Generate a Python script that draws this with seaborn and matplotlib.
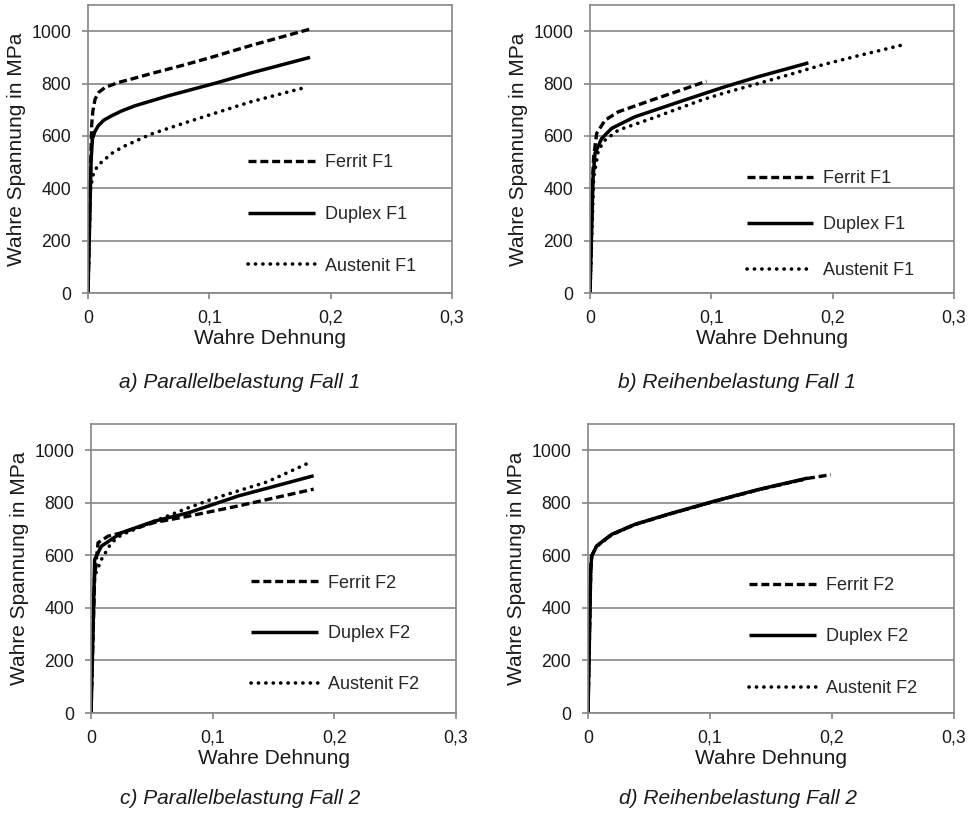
import matplotlib
matplotlib.use("Agg")
import matplotlib.pyplot as plt
import seaborn as sns
import pandas as pd

# ---------------- data (true strain, true stress in MPa) ----------------
# a) Parallelbelastung Fall 1
a_ferrit_x = [0, 0.002, 0.003, 0.004, 0.0058, 0.009, 0.014, 0.025, 0.038, 0.052, 0.080, 0.100, 0.134, 0.183]
a_ferrit_y = [0, 440, 640, 695, 740, 767, 785, 804, 820, 838, 872, 898, 945, 1008]
a_duplex_x = [0, 0.0025, 0.0036, 0.0055, 0.0085, 0.013, 0.0195, 0.028, 0.0387, 0.066, 0.1047, 0.134, 0.183]
a_duplex_y = [0, 500, 588, 615, 639, 660, 677, 696, 715, 753, 801, 840, 900]
a_austen_x = [0, 0.002, 0.0044, 0.008, 0.014, 0.021, 0.0305, 0.052, 0.080, 0.100, 0.134, 0.179]
a_austen_y = [0, 400, 454, 487, 511, 538, 562, 607, 650, 680, 730, 785]

# b) Reihenbelastung Fall 1
b_ferrit_x = [0, 0.002, 0.003, 0.0055, 0.0124, 0.0233, 0.051, 0.075, 0.096]
b_ferrit_y = [0, 420, 520, 610, 660, 692, 737, 775, 809]
b_duplex_x = [0, 0.0025, 0.0041, 0.0096, 0.0179, 0.037, 0.078, 0.110, 0.137, 0.180]
b_duplex_y = [0, 440, 533, 590, 629, 673, 737, 786, 824, 879]
b_austen_x = [0, 0.003, 0.0069, 0.0124, 0.0233, 0.051, 0.092, 0.110, 0.137, 0.165, 0.192, 0.220, 0.258]
b_austen_y = [0, 440, 546, 584, 622, 667, 737, 763, 798, 835, 872, 905, 948]

# c) Parallelbelastung Fall 2
c_ferrit_x = [0, 0.003, 0.0058, 0.014, 0.025, 0.052, 0.080, 0.121, 0.150, 0.183]
c_ferrit_y = [0, 520, 648, 673, 686, 725, 749, 788, 818, 852]
c_duplex_x = [0, 0.0025, 0.003, 0.0085, 0.025, 0.052, 0.080, 0.121, 0.150, 0.183]
c_duplex_y = [0, 480, 584, 635, 686, 730, 762, 826, 862, 903]
c_austen_x = [0, 0.002, 0.003, 0.0085, 0.0167, 0.025, 0.052, 0.080, 0.100, 0.145, 0.179]
c_austen_y = [0, 400, 520, 584, 648, 678, 730, 781, 815, 880, 952]

# d) Reihenbelastung Fall 2
d_ferrit_x = [0, 0.0022, 0.003, 0.0071, 0.0194, 0.0385, 0.066, 0.104, 0.140, 0.180, 0.199]
d_ferrit_y = [0, 540, 597, 635, 679, 718, 756, 806, 850, 893, 907]
d_duplex_x = [0, 0.0022, 0.003, 0.0071, 0.0194, 0.0385, 0.066, 0.104, 0.140, 0.180]
d_duplex_y = [0, 540, 598, 636, 680, 718, 757, 807, 851, 894]
d_austen_x = [0, 0.0022, 0.003, 0.0071, 0.0194, 0.0385, 0.066, 0.104, 0.140, 0.180]
d_austen_y = [0, 538, 596, 634, 678, 717, 756, 806, 850, 892]

labels_f1 = ["Ferrit F1", "Duplex F1", "Austenit F1"]
labels_f2 = ["Ferrit F2", "Duplex F2", "Austenit F2"]
captions = ["a) Parallelbelastung Fall 1", "b) Reihenbelastung Fall 1",
            "c) Parallelbelastung Fall 2", "d) Reihenbelastung Fall 2"]
x_ticks = [0, 0.1, 0.2, 0.3]
x_ticklabels = ["0", "0,1", "0,2", "0,3"]
y_ticks = [0, 200, 400, 600, 800, 1000]
x_label = "Wahre Dehnung"
y_label = "Wahre Spannung in MPa"

# ---------------- style ----------------
sns.set_style("white")
plt.rcParams["font.family"] = ["Liberation Sans", "DejaVu Sans"]

GRAY = "#868686"
styles = [
    dict(ls=(0, (2.4, 1.15)), lw=2.4, dash_capstyle="butt"),
    dict(ls="-", lw=2.5),
    dict(ls=(0, (0.05, 2.0)), lw=2.6, dash_capstyle="round"),
]

panels = [
    ([(a_ferrit_x, a_ferrit_y), (a_duplex_x, a_duplex_y), (a_austen_x, a_austen_y)], labels_f1),
    ([(b_ferrit_x, b_ferrit_y), (b_duplex_x, b_duplex_y), (b_austen_x, b_austen_y)], labels_f1),
    ([(c_ferrit_x, c_ferrit_y), (c_duplex_x, c_duplex_y), (c_austen_x, c_austen_y)], labels_f2),
    ([(d_ferrit_x, d_ferrit_y), (d_duplex_x, d_duplex_y), (d_austen_x, d_austen_y)], labels_f2),
]

W, H = 974, 814
boxes = [(88, 452, 5, 293), (590, 954, 5, 293), (91, 456, 424, 713), (588, 954, 424, 713)]
legend_anchor = [(0.44, 0.273, 1.93), (0.43, 0.238, 1.6), (0.438, 0.274, 1.87), (0.44, 0.263, 1.92)]
caption_pos = [(240, 383), (737, 383), (240, 798), (738, 798)]

fig = plt.figure(figsize=(W / 100, H / 100), dpi=100)

for i, (series, labels) in enumerate(panels):
    l, r, t, b = boxes[i]
    ax = fig.add_axes([l / W, 1 - b / H, (r - l) / W, (b - t) / H])
    for (xs, ys), lab, st in zip(series, labels, styles):
        df = pd.DataFrame({"x": xs, "y": ys})
        sns.lineplot(data=df, x="x", y="y", ax=ax, sort=False, estimator=None,
                     color="black", label=lab, solid_capstyle="butt",
                     solid_joinstyle="round", **st)
    ax.set_xlim(0, 0.3)
    ax.set_ylim(0, 1100)
    ax.set_xticks(x_ticks)
    ax.set_xticklabels(x_ticklabels)
    ax.set_yticks(y_ticks)
    ax.yaxis.grid(True, color=GRAY, lw=1.2)
    ax.xaxis.grid(False)
    ax.set_axisbelow(True)
    for sp in ax.spines.values():
        sp.set_color(GRAY)
        sp.set_linewidth(1.2)
        sp.set_visible(True)
    ax.tick_params(axis="both", which="major", labelsize=12.7, colors=GRAY,
                   labelcolor="#1a1a1a", length=4, width=1.2, direction="out")
    ax.tick_params(axis="y", pad=8)
    ax.tick_params(axis="x", pad=8)
    ax.tick_params(left=True, bottom=True)
    ax.set_xlabel(x_label, fontsize=15, color="#1a1a1a", labelpad=2)
    ax.set_ylabel(y_label, fontsize=15, color="#1a1a1a", labelpad=4)
    lx, ly, ls_ = legend_anchor[i]
    ax.legend(loc="center left", bbox_to_anchor=(lx, ly), frameon=False,
              fontsize=13, handlelength=3.7, handletextpad=0.55,
              labelspacing=ls_, borderpad=0, borderaxespad=0)
    cx, cy = caption_pos[i]
    fig.text(cx / W, 1 - cy / H, captions[i], ha="center", va="center",
             fontsize=15, style="italic", color="#1a1a1a")

fig.savefig("out.png", dpi=100)
